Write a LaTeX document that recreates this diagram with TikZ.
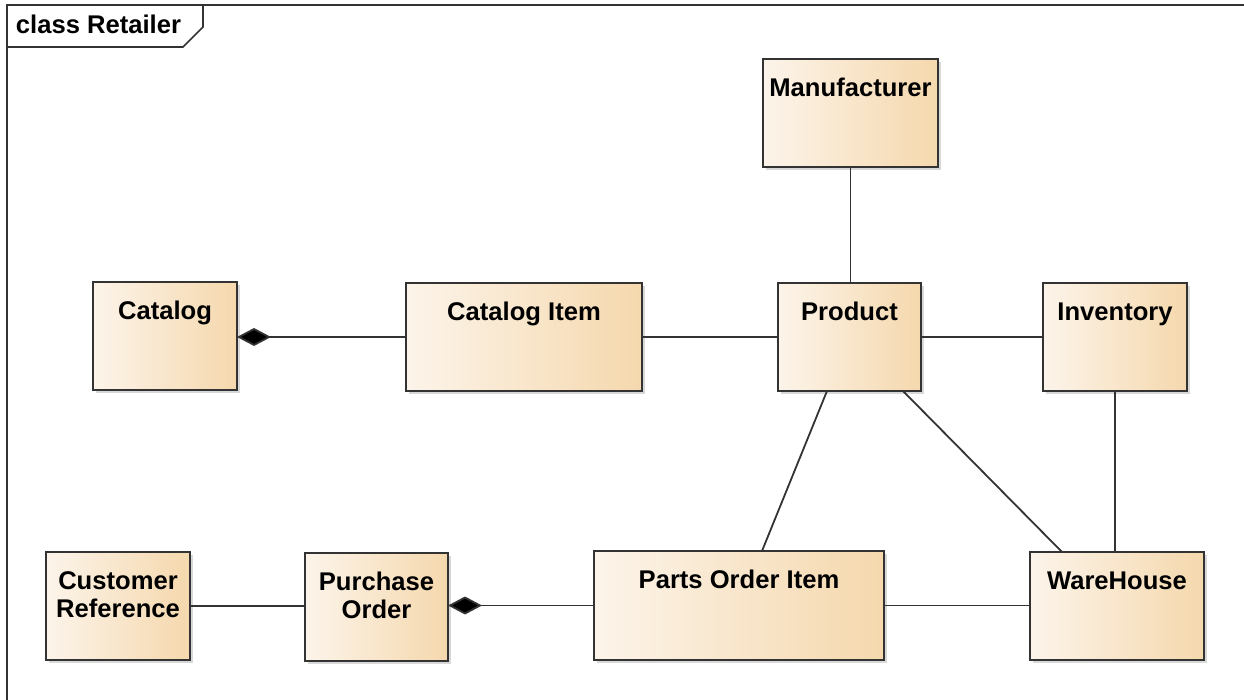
\documentclass[tikz,border=0pt]{standalone}
\usepackage{fontspec}
\setmainfont{Liberation Sans}
\usetikzlibrary{arrows.meta,shadows}
\definecolor{classleft}{HTML}{FCF4EA}
\definecolor{classright}{HTML}{F5D8AD}
\definecolor{linegray}{HTML}{333333}
\newcommand{\pxlen}{0.5pt}
% box with its name at the top: name, x, y, width, height, title
\newcommand{\umlclass}[6]{
\node[classbox, minimum width=#4*\pxlen, minimum height=#5*\pxlen] (#1) at (#2, #3) {};
\node[classname] (#1-name) at ([yshift=-18*\pxlen]#1.north) {\strut #6};
}
\tikzstyle{every node}=[font=\fontsize{12.8}{14}\selectfont\bfseries, inner sep=0, outer sep=0]
\tikzstyle{classbox}=[draw=linegray, line width=1pt, anchor=north west, left color=classleft, right color=classright,
  drop shadow={shadow xshift=1.5pt, shadow yshift=-1.5pt, fill=black!30, opacity=0.5}]
\tikzstyle{classname}=[anchor=north, align=center]
\tikzstyle{assoc}=[draw=linegray, line width=0.9pt]
\tikzstyle{compose}=[assoc, -{Diamond[length=17pt, width=9pt, fill=black]}]

\begin{document}
\begin{tikzpicture}[x=\pxlen, y=-\pxlen]
\useasboundingbox (0,0) rectangle (1244,700);

% frame with its tab
\draw[linegray, line width=1pt] (7,700) -- (7,5) -- (1244,5);
\draw[linegray, line width=0.8pt] (7,47) -- (183,47) -- (203,27) -- (203,5);
\node[anchor=base west] (frame-name) at (16,34) {class Retailer};

\umlclass{manufacturer}{763}{59}{175}{108}{Manufacturer}
\umlclass{catalog}{93}{282}{144}{108}{Catalog}
\umlclass{catitem}{406}{283}{236}{108}{Catalog Item}
\umlclass{product}{778}{283}{143}{108}{Product}
\umlclass{inventory}{1043}{283}{144}{108}{Inventory}
\umlclass{custref}{46}{552}{144}{108}{Customer\\Reference}
\umlclass{purchase}{305}{553}{143}{108}{Purchase\\Order}
\umlclass{partsitem}{594}{551}{290}{109}{Parts Order Item}
\umlclass{warehouse}{1030}{552}{174}{108}{WareHouse}

% compositions
\draw[compose] (catitem.west) -- (catitem.west -| catalog.east);
\draw[compose] (partsitem.west) -- (partsitem.west -| purchase.east);

% associations
\draw[assoc] (catitem.east) -- (catitem.east -| product.west);
\draw[assoc] (manufacturer) -- (manufacturer |- product.north);
\draw[assoc] (product.east) -- (product.east -| inventory.west);
\draw[assoc] ([xshift=-22.5*\pxlen]product.south) -- ([xshift=23*\pxlen]partsitem.north);
\draw[assoc] ([xshift=53.5*\pxlen]product.south) -- ([xshift=-55*\pxlen]warehouse.north);
\draw[assoc] (inventory) -- (inventory |- warehouse.north);
\draw[assoc] (partsitem.east) -- (partsitem.east -| warehouse.west);
\draw[assoc] (custref.east) -- (custref.east -| purchase.west);
\end{tikzpicture}
\end{document}
